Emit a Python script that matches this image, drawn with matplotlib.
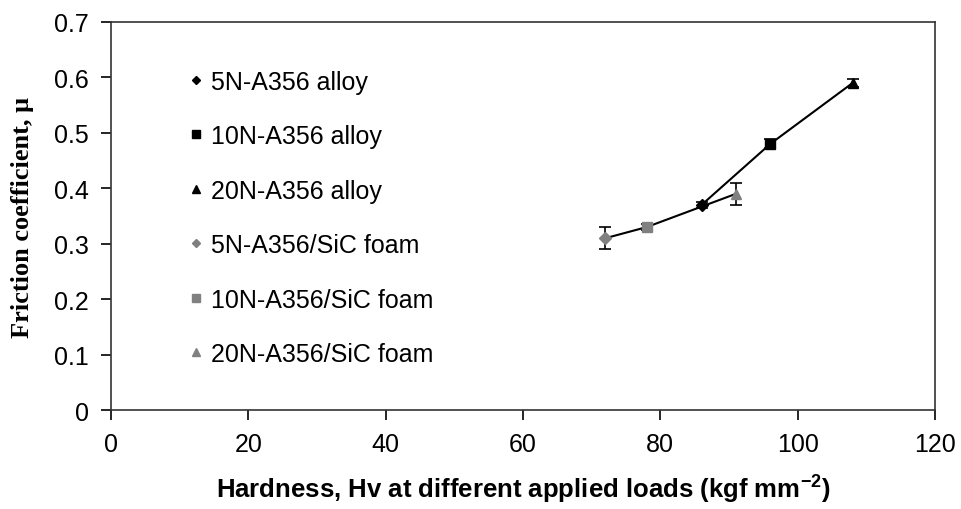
import matplotlib
matplotlib.use("Agg")
import matplotlib.pyplot as plt

# hardness (Hv), friction coefficient, error (std)
LOADS = ["5N", "10N", "20N"]
ALLOY_HV = [86, 96, 108]
ALLOY_MU = [0.37, 0.48, 0.59]
ALLOY_ERR = [0.006, 0.008, 0.008]
FOAM_HV = [72, 78, 91]
FOAM_MU = [0.31, 0.33, 0.39]
FOAM_ERR = [0.02, 0.005, 0.02]
MARKERS = ["D", "s", "^"]

plt.rcParams.update({"font.family": "Liberation Sans", "font.size": 18})
fig = plt.figure(figsize=(9.61, 5.10), dpi=100)
ax = fig.add_axes([0.1155, 0.194, 0.8575, 0.761])

# connecting lines
ax.plot(ALLOY_HV, ALLOY_MU, color="black", lw=1.5, zorder=2)
ax.plot(FOAM_HV, FOAM_MU, color="black", lw=1.5, zorder=2)

handles = []
for hv, mu, e, m, ld in zip(ALLOY_HV, ALLOY_MU, ALLOY_ERR, MARKERS, LOADS):
    ax.errorbar(hv, mu, yerr=e, fmt="none", ecolor="black", elinewidth=1.2,
                capsize=4, capthick=1.2, zorder=3)
    h, = ax.plot(hv, mu, ls="none", marker=m, color="black",
                 ms=7.5 if m != "D" else 6, zorder=4,
                 label=f"{ld}-A356 alloy")
    handles.append(h)
for hv, mu, e, m, ld in zip(FOAM_HV, FOAM_MU, FOAM_ERR, MARKERS, LOADS):
    ax.errorbar(hv, mu, yerr=e, fmt="none", ecolor="black", elinewidth=1.2,
                capsize=4, capthick=1.2, zorder=3)
    h, = ax.plot(hv, mu, ls="none", marker=m, color="#808080",
                 ms=7.5 if m != "D" else 6, zorder=4,
                 label=f"{ld}-A356/SiC foam")
    handles.append(h)

ax.legend(handles=handles, loc="upper left", frameon=False, fontsize=18,
          markerscale=0.7, handlelength=0.6, handletextpad=0.3,
          labelspacing=1.22, borderaxespad=0, bbox_to_anchor=(0.082, 0.903))

ax.set_xlim(0, 120)
ax.set_ylim(0, 0.7)
ax.set_xticks(range(0, 121, 20))
ax.set_yticks([i / 10 for i in range(8)])
ax.set_yticklabels(["0"] + [f"{i / 10:.1f}" for i in range(1, 8)])
ax.tick_params(direction="out", length=7, width=1.2, pad=9, labelsize=18)
for s in ax.spines.values():
    s.set_linewidth(1.2)
    s.set_color("#333333")

ax.set_xlabel("Hardness, Hv at different applied loads (kgf mm$^{\\mathregular{-2}}$)",
              fontweight="bold", fontsize=18.5, labelpad=11)
ax.set_ylabel("Friction coefficient, μ", family="Liberation Serif",
              fontweight="bold", fontsize=19, labelpad=14)

fig.savefig("out.png")
